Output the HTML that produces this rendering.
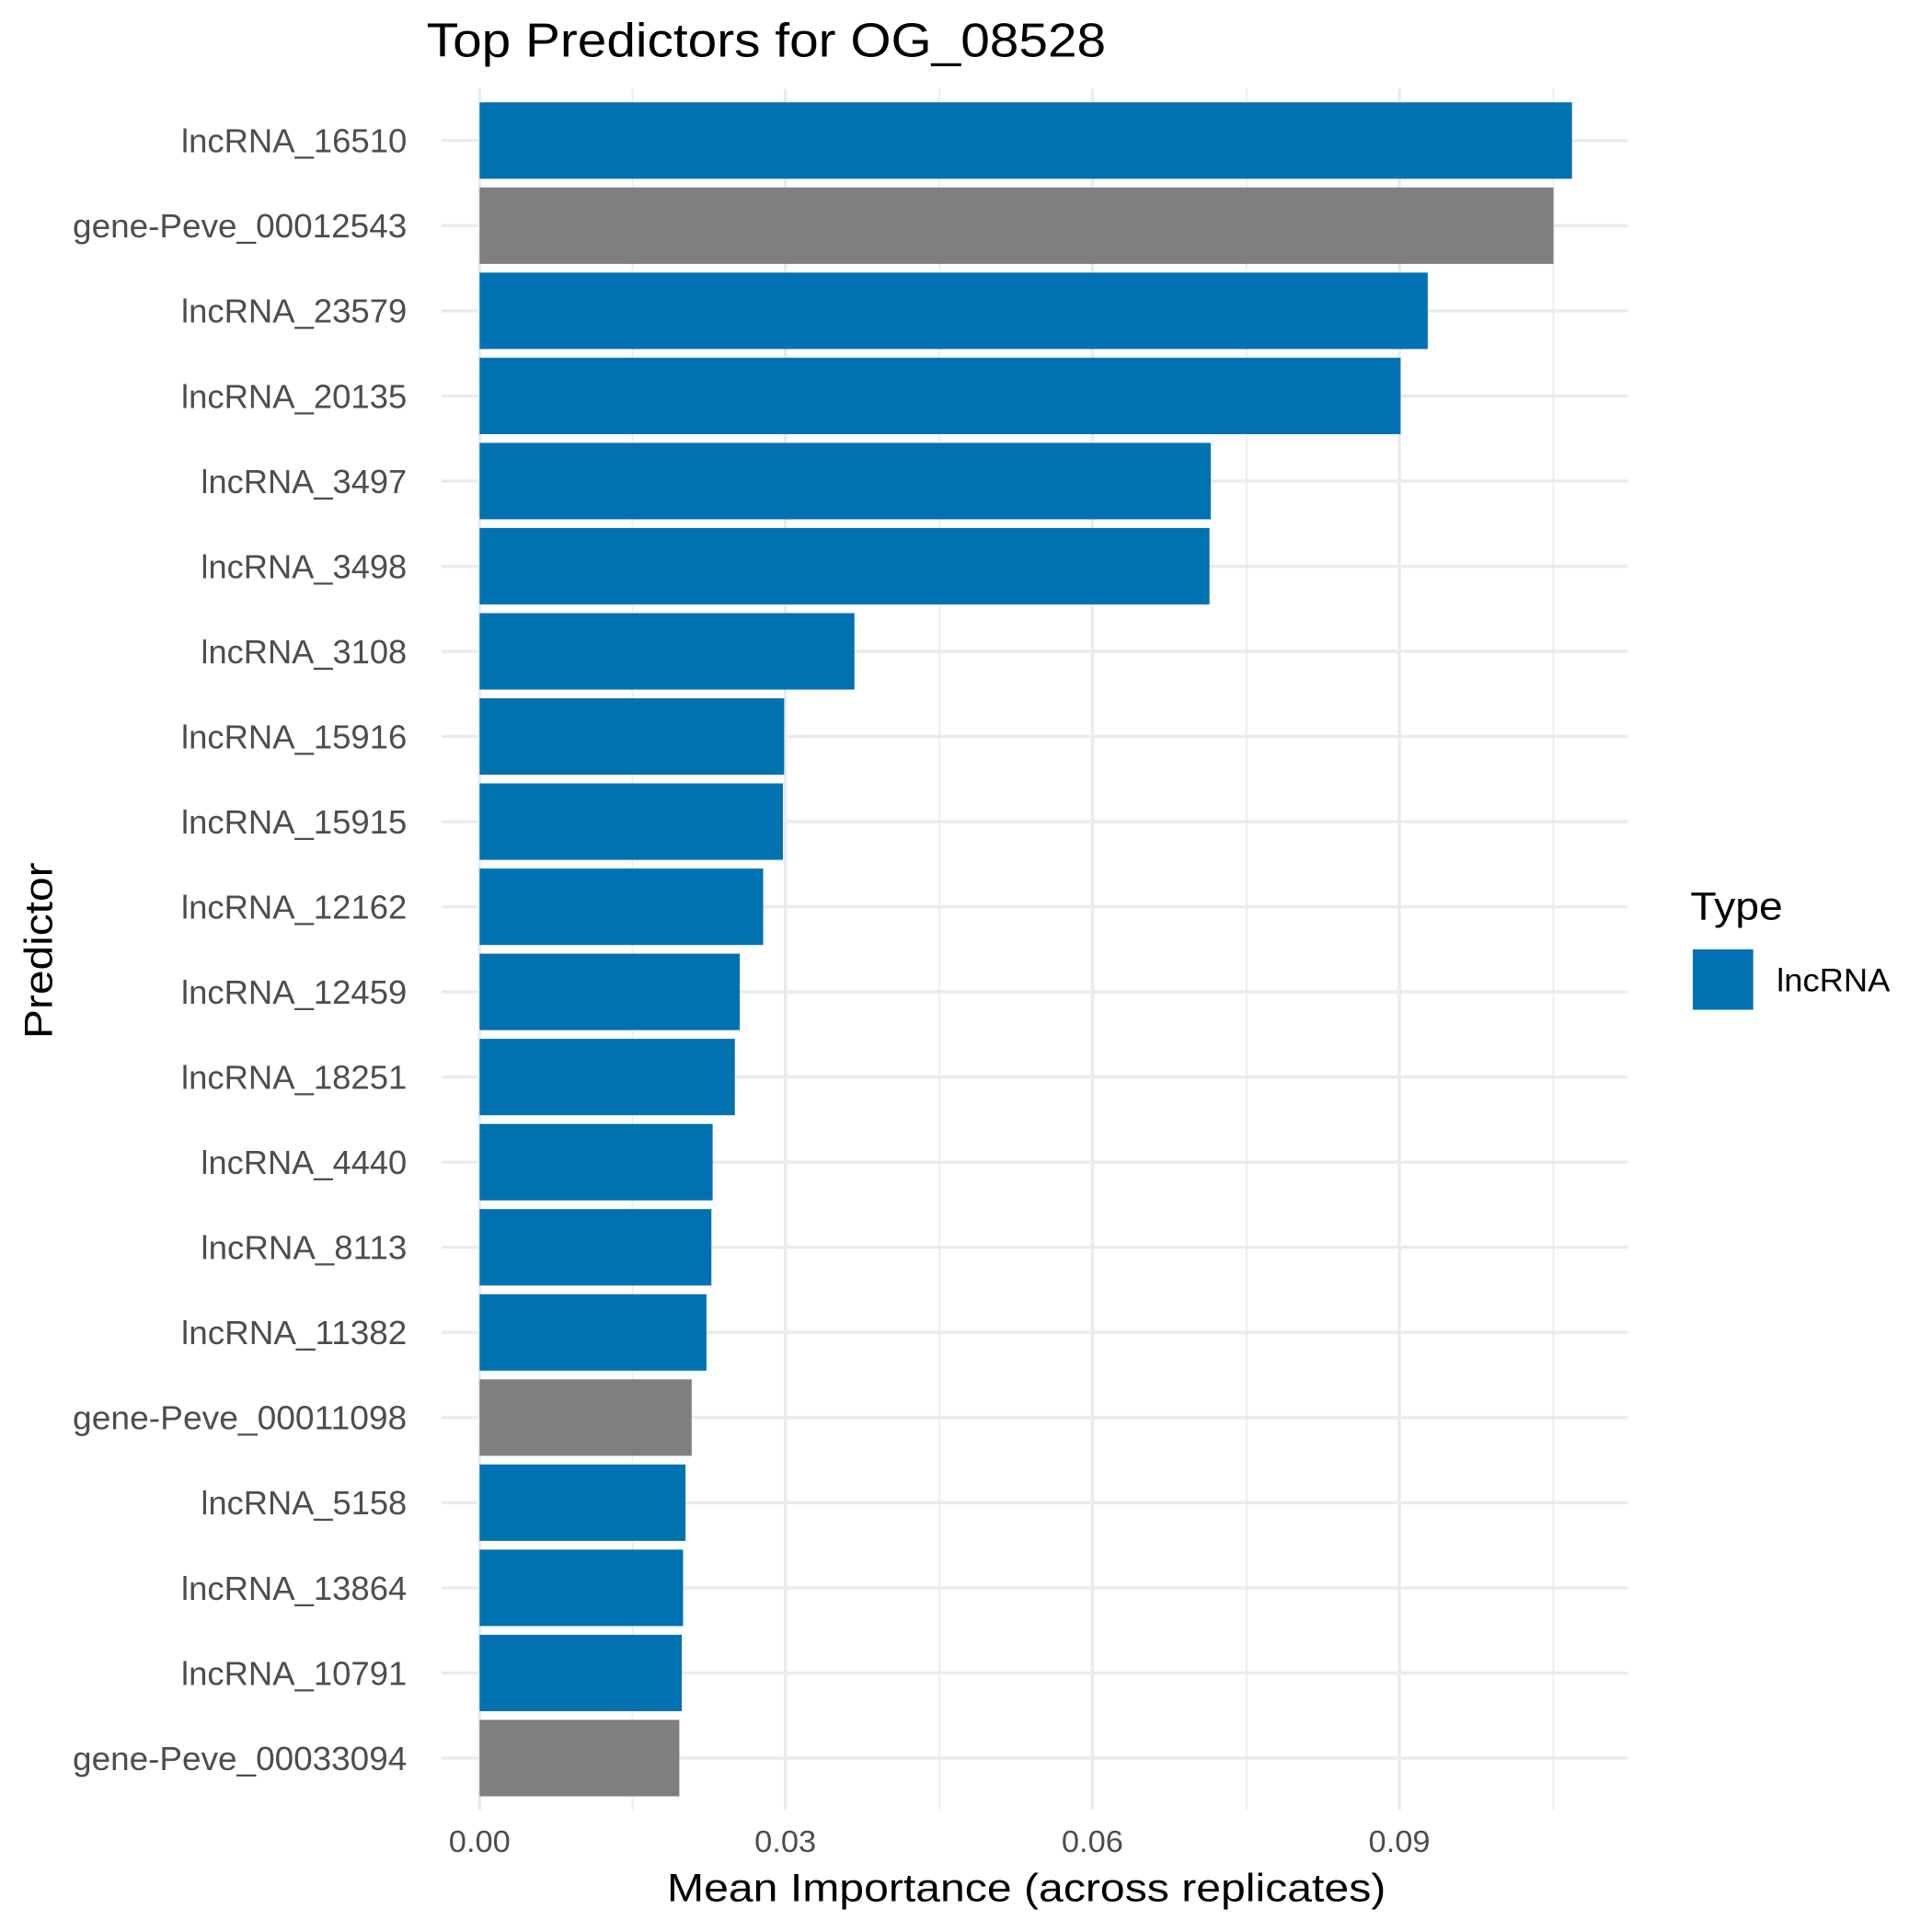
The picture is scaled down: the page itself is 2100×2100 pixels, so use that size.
<!DOCTYPE html>
<html><head><meta charset="utf-8"><style>html,body{margin:0;padding:0;background:#fff}svg{display:block}</style></head>
<body>
<svg width="2100" height="2100" viewBox="0 0 1567 1567" xmlns="http://www.w3.org/2000/svg" font-family="'Liberation Sans', 'DejaVu Sans', sans-serif">
<rect width="1567" height="1567" fill="#fff"/>
<g stroke="#ebebeb" stroke-width="1.3">
<line x1="513" y1="72" x2="513" y2="1468"/><line x1="762" y1="72" x2="762" y2="1468"/><line x1="1011" y1="72" x2="1011" y2="1468"/><line x1="1260" y1="72" x2="1260" y2="1468"/>
</g>
<g stroke="#ebebeb" stroke-width="2.6">
<line x1="389" y1="72" x2="389" y2="1468"/><line x1="637" y1="72" x2="637" y2="1468"/><line x1="886" y1="72" x2="886" y2="1468"/><line x1="1135" y1="72" x2="1135" y2="1468"/>
<line x1="358" x2="1320" y1="114" y2="114"/>
<line x1="358" x2="1320" y1="183.05" y2="183.05"/>
<line x1="358" x2="1320" y1="252.1" y2="252.1"/>
<line x1="358" x2="1320" y1="321.15" y2="321.15"/>
<line x1="358" x2="1320" y1="390.2" y2="390.2"/>
<line x1="358" x2="1320" y1="459.25" y2="459.25"/>
<line x1="358" x2="1320" y1="528.3" y2="528.3"/>
<line x1="358" x2="1320" y1="597.35" y2="597.35"/>
<line x1="358" x2="1320" y1="666.4" y2="666.4"/>
<line x1="358" x2="1320" y1="735.45" y2="735.45"/>
<line x1="358" x2="1320" y1="804.5" y2="804.5"/>
<line x1="358" x2="1320" y1="873.55" y2="873.55"/>
<line x1="358" x2="1320" y1="942.6" y2="942.6"/>
<line x1="358" x2="1320" y1="1011.65" y2="1011.65"/>
<line x1="358" x2="1320" y1="1080.7" y2="1080.7"/>
<line x1="358" x2="1320" y1="1149.75" y2="1149.75"/>
<line x1="358" x2="1320" y1="1218.8" y2="1218.8"/>
<line x1="358" x2="1320" y1="1287.85" y2="1287.85"/>
<line x1="358" x2="1320" y1="1356.9" y2="1356.9"/>
<line x1="358" x2="1320" y1="1425.95" y2="1425.95"/>
</g>
<g>
<rect x="389" y="83" width="886" height="62" fill="#0072b2"/>
<rect x="389" y="152.05" width="871" height="62" fill="#7f7f7f"/>
<rect x="389" y="221.1" width="769" height="62" fill="#0072b2"/>
<rect x="389" y="290.15" width="747" height="62" fill="#0072b2"/>
<rect x="389" y="359.2" width="593" height="62" fill="#0072b2"/>
<rect x="389" y="428.25" width="592" height="62" fill="#0072b2"/>
<rect x="389" y="497.3" width="304" height="62" fill="#0072b2"/>
<rect x="389" y="566.35" width="247" height="62" fill="#0072b2"/>
<rect x="389" y="635.4" width="246" height="62" fill="#0072b2"/>
<rect x="389" y="704.45" width="230" height="62" fill="#0072b2"/>
<rect x="389" y="773.5" width="211" height="62" fill="#0072b2"/>
<rect x="389" y="842.55" width="207" height="62" fill="#0072b2"/>
<rect x="389" y="911.6" width="189" height="62" fill="#0072b2"/>
<rect x="389" y="980.65" width="188" height="62" fill="#0072b2"/>
<rect x="389" y="1049.7" width="184" height="62" fill="#0072b2"/>
<rect x="389" y="1118.75" width="172" height="62" fill="#7f7f7f"/>
<rect x="389" y="1187.8" width="167" height="62" fill="#0072b2"/>
<rect x="389" y="1256.85" width="165" height="62" fill="#0072b2"/>
<rect x="389" y="1325.9" width="164" height="62" fill="#0072b2"/>
<rect x="389" y="1394.95" width="162" height="62" fill="#7f7f7f"/>
</g>
<g font-size="27" fill="#4d4d4d" text-anchor="end" lengthAdjust="spacingAndGlyphs">
<text x="330" y="123.6" textLength="183" lengthAdjust="spacingAndGlyphs">lncRNA_16510</text>
<text x="330" y="192.65" textLength="271" lengthAdjust="spacingAndGlyphs">gene-Peve_00012543</text>
<text x="330" y="261.7" textLength="183" lengthAdjust="spacingAndGlyphs">lncRNA_23579</text>
<text x="330" y="330.75" textLength="183" lengthAdjust="spacingAndGlyphs">lncRNA_20135</text>
<text x="330" y="399.8" textLength="167" lengthAdjust="spacingAndGlyphs">lncRNA_3497</text>
<text x="330" y="468.85" textLength="167" lengthAdjust="spacingAndGlyphs">lncRNA_3498</text>
<text x="330" y="537.9" textLength="167" lengthAdjust="spacingAndGlyphs">lncRNA_3108</text>
<text x="330" y="606.95" textLength="183" lengthAdjust="spacingAndGlyphs">lncRNA_15916</text>
<text x="330" y="676" textLength="183" lengthAdjust="spacingAndGlyphs">lncRNA_15915</text>
<text x="330" y="745.05" textLength="183" lengthAdjust="spacingAndGlyphs">lncRNA_12162</text>
<text x="330" y="814.1" textLength="183" lengthAdjust="spacingAndGlyphs">lncRNA_12459</text>
<text x="330" y="883.15" textLength="183" lengthAdjust="spacingAndGlyphs">lncRNA_18251</text>
<text x="330" y="952.2" textLength="167" lengthAdjust="spacingAndGlyphs">lncRNA_4440</text>
<text x="330" y="1021.25" textLength="167" lengthAdjust="spacingAndGlyphs">lncRNA_8113</text>
<text x="330" y="1090.3" textLength="183" lengthAdjust="spacingAndGlyphs">lncRNA_11382</text>
<text x="330" y="1159.35" textLength="271" lengthAdjust="spacingAndGlyphs">gene-Peve_00011098</text>
<text x="330" y="1228.4" textLength="167" lengthAdjust="spacingAndGlyphs">lncRNA_5158</text>
<text x="330" y="1297.45" textLength="183" lengthAdjust="spacingAndGlyphs">lncRNA_13864</text>
<text x="330" y="1366.5" textLength="183" lengthAdjust="spacingAndGlyphs">lncRNA_10791</text>
<text x="330" y="1435.55" textLength="271" lengthAdjust="spacingAndGlyphs">gene-Peve_00033094</text>
</g>
<g font-size="25" fill="#4d4d4d" text-anchor="middle">
<text x="389" y="1502" textLength="50" lengthAdjust="spacingAndGlyphs">0.00</text>
<text x="637" y="1502" textLength="50" lengthAdjust="spacingAndGlyphs">0.03</text>
<text x="886" y="1502" textLength="50" lengthAdjust="spacingAndGlyphs">0.06</text>
<text x="1135" y="1502" textLength="50" lengthAdjust="spacingAndGlyphs">0.09</text>
</g>
<g fill="#000">
<text x="346" y="46" font-size="39" textLength="551" lengthAdjust="spacingAndGlyphs">Top Predictors for OG_08528</text>
<text x="541" y="1542" font-size="32" textLength="583" lengthAdjust="spacingAndGlyphs">Mean Importance (across replicates)</text>
<text transform="translate(42,771) rotate(-90)" text-anchor="middle" font-size="32" textLength="143" lengthAdjust="spacingAndGlyphs">Predictor</text>
<text x="1371" y="746" font-size="32" textLength="75" lengthAdjust="spacingAndGlyphs">Type</text>
<rect x="1373" y="770" width="49" height="49" fill="#0072b2"/>
<text x="1441" y="804" font-size="26" textLength="92" lengthAdjust="spacingAndGlyphs">lncRNA</text>
</g>
</svg>
</body></html>
